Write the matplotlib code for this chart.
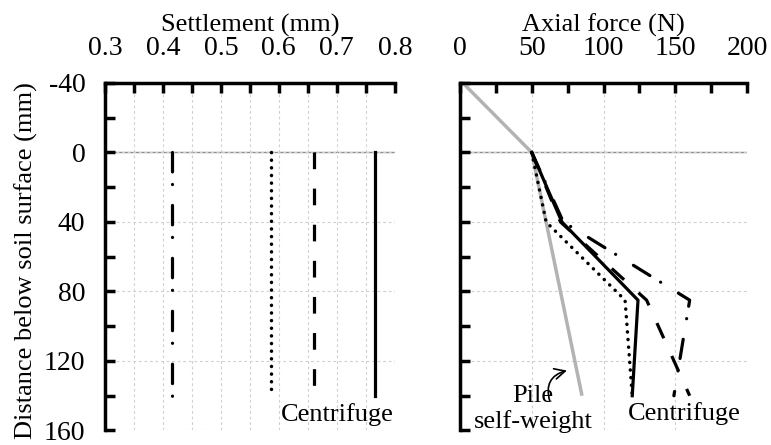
import matplotlib.pyplot as plt
from matplotlib.ticker import MultipleLocator

plt.rcParams['font.family'] = ['Liberation Serif', 'DejaVu Serif']
plt.rcParams['font.size'] = 19
plt.rcParams['axes.unicode_minus'] = False
plt.rcParams['lines.scale_dashes'] = False

# Settlement profiles (uniform along the pile)
settle_depth = [0, 140]
settle_dashdot = 0.415
settle_dotted = 0.587
settle_dashed = 0.66
settle_solid = 0.766

# Axial force profiles
depth_solid = [0, 40, 85, 140]
force_solid = [50, 71, 124, 120]
depth_dashed = [0, 40, 85, 140]
force_dashed = [50, 70, 130, 160]
depth_dashdot = [0, 40, 85, 140]
force_dashdot = [50, 72, 160, 149]
depth_dotted = [0, 40, 85, 140]
force_dotted = [50, 60, 115, 120]
depth_self = [-40, 0, 140]
force_self = [2, 50, 85]

styles = {
    'solid': dict(color='black', lw=2.3, ls='-'),
    'dashed': dict(color='black', lw=2.3, ls=(0, (12, 14)), dash_capstyle='butt'),
    'dashdot': dict(color='black', lw=2.3, ls=(0, (14, 9, 0.1, 15)), dash_capstyle='round'),
    'dotted': dict(color='black', lw=2.5, ls=(0, (0.1, 5.4)), dash_capstyle='round'),
}

fig = plt.figure(figsize=(7.71, 4.45), dpi=100)
ax1 = fig.add_axes([0.136, 0.0326, 0.376, 0.781])
ax2 = fig.add_axes([0.5966, 0.0326, 0.3724, 0.781])


def style_axes(ax):
    ax.set_ylim(160, -40)
    ax.xaxis.tick_top()
    ax.xaxis.set_label_position('top')
    for side in ['right', 'bottom']:
        ax.spines[side].set_visible(False)
    for side in ['left', 'top']:
        ax.spines[side].set_linewidth(2.5)
    ax.yaxis.set_major_locator(MultipleLocator(40))
    ax.yaxis.set_minor_locator(MultipleLocator(20))
    ax.tick_params(which='both', direction='in', length=7, width=2.5,
                   top=True, bottom=False, left=True, right=False)
    ax.tick_params(axis='x', pad=16, labelsize=20)
    ax.tick_params(axis='y', pad=14, labelsize=20)
    ax.grid(True, which='major', color='#d0d0d0', lw=0.8, ls=(0, (2, 2)))
    ax.axhline(0, color='#8c8c8c', lw=1, zorder=1)


# Left: settlement
style_axes(ax1)
ax1.set_xlim(0.3, 0.8)
ax1.xaxis.set_major_locator(MultipleLocator(0.1))
ax1.xaxis.set_minor_locator(MultipleLocator(0.05))
ax1.xaxis.grid(True, which='minor', color='#d0d0d0', lw=0.8, ls=(0, (2, 2)))
ax1.plot([settle_dashdot] * 2, settle_depth, **styles['dashdot'])
ax1.plot([settle_dotted] * 2, settle_depth, **styles['dotted'])
ax1.plot([settle_dashed] * 2, settle_depth, **styles['dashed'])
ax1.plot([settle_solid] * 2, settle_depth, **styles['solid'])
ax1.text(0.701, 151, 'Centrifuge', ha='center', va='center')
ax1.set_xlabel('Settlement (mm)', labelpad=3)
ax1.set_ylabel('Distance below soil surface (mm)')
ax1.yaxis.set_label_coords(-0.231, 0.49)

# Right: axial force
style_axes(ax2)
ax2.set_xlim(0, 200)
ax2.xaxis.set_major_locator(MultipleLocator(50))
ax2.xaxis.set_minor_locator(MultipleLocator(25))
ax2.set_yticklabels([])
ax2.plot(force_self, depth_self, color='#b3b3b3', lw=2.5, solid_capstyle='butt')
ax2.plot(force_dotted, depth_dotted, **styles['dotted'])
ax2.plot(force_dashdot, depth_dashdot, **styles['dashdot'])
ax2.plot(force_dashed, depth_dashed, **styles['dashed'])
ax2.plot(force_solid, depth_solid, **styles['solid'])
ax2.text(156, 150, 'Centrifuge', ha='center', va='center')
ax2.text(51, 147.5, 'Pile\nself-weight', ha='center', va='center', linespacing=1.15)
ax2.annotate('', xy=(74.5, 125.5), xytext=(62.5, 143),
             arrowprops=dict(arrowstyle='->', color='black', lw=1.2,
                             connectionstyle='arc3,rad=-0.5',
                             shrinkA=0, shrinkB=0))
ax2.set_xlabel('Axial force (N)', labelpad=3)

fig.savefig('out.png', dpi=100)
